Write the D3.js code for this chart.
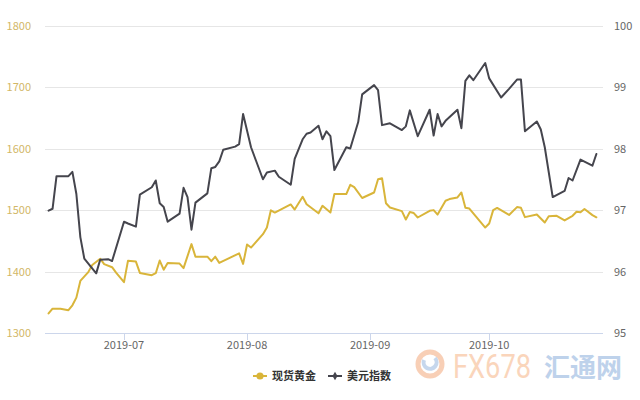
<!DOCTYPE html>
<html>
<head>
<meta charset="utf-8">
<script src="https://cdn.jsdelivr.net/npm/d3@7"></script>
<style>
  html, body { margin: 0; padding: 0; background: #fff; }
  svg { display: block; font-family: "Noto Sans CJK SC", "Noto Sans", sans-serif; }
</style>
</head>
<body>
<svg id="chart" width="640" height="400"></svg>
<script>
// ---- data ----
const goldDates = ["2019-06-12","2019-06-13","2019-06-15","2019-06-17","2019-06-18","2019-06-19","2019-06-20","2019-06-22","2019-06-23","2019-06-25","2019-06-26","2019-06-28","2019-06-29","2019-07-01","2019-07-02","2019-07-04","2019-07-05","2019-07-08","2019-07-09","2019-07-10","2019-07-11","2019-07-12","2019-07-15","2019-07-16","2019-07-18","2019-07-19","2019-07-22","2019-07-23","2019-07-24","2019-07-25","2019-07-30","2019-07-31","2019-08-01","2019-08-02","2019-08-05","2019-08-06","2019-08-07","2019-08-08","2019-08-12","2019-08-13","2019-08-15","2019-08-16","2019-08-19","2019-08-20","2019-08-22","2019-08-23","2019-08-26","2019-08-27","2019-08-28","2019-08-30","2019-09-02","2019-09-03","2019-09-04","2019-09-05","2019-09-06","2019-09-09","2019-09-10","2019-09-11","2019-09-12","2019-09-13","2019-09-16","2019-09-17","2019-09-18","2019-09-20","2019-09-21","2019-09-23","2019-09-24","2019-09-25","2019-09-26","2019-09-30","2019-10-01","2019-10-02","2019-10-03","2019-10-06","2019-10-08","2019-10-09","2019-10-10","2019-10-13","2019-10-15","2019-10-16","2019-10-18","2019-10-20","2019-10-22","2019-10-23","2019-10-24","2019-10-25","2019-10-27","2019-10-28"];
const goldValues = [1331.8,1339.6,1339.6,1337.1,1345.1,1357.5,1384.7,1399.0,1410.7,1420.8,1412.0,1407.0,1398.2,1382.7,1417.3,1416.1,1397.7,1394.0,1397.2,1417.8,1402.9,1413.7,1412.9,1405.5,1444.5,1424.1,1424.1,1416.8,1424.1,1414.0,1429.5,1412.4,1443.8,1438.9,1460.7,1471.5,1499.5,1495.9,1509.0,1500.8,1521.5,1509.3,1494.6,1506.8,1495.9,1525.9,1525.9,1541.0,1537.3,1519.5,1528.5,1550.0,1551.6,1510.9,1504.1,1498.2,1484.5,1496.7,1495.0,1487.8,1498.7,1499.8,1492.5,1515.0,1517.8,1520.4,1528.5,1503.6,1502.3,1471.5,1478.0,1499.8,1503.3,1491.9,1504.7,1503.6,1488.4,1492.7,1479.6,1489.7,1490.6,1483.1,1490.6,1497.1,1496.3,1501.5,1491.7,1488.1];

const usdDates = ["2019-06-12","2019-06-13","2019-06-14","2019-06-17","2019-06-18","2019-06-19","2019-06-20","2019-06-21","2019-06-24","2019-06-25","2019-06-27","2019-06-28","2019-07-01","2019-07-02","2019-07-04","2019-07-05","2019-07-08","2019-07-09","2019-07-10","2019-07-11","2019-07-12","2019-07-15","2019-07-16","2019-07-17","2019-07-18","2019-07-19","2019-07-22","2019-07-23","2019-07-24","2019-07-25","2019-07-26","2019-07-29","2019-07-30","2019-07-31","2019-08-02","2019-08-05","2019-08-06","2019-08-08","2019-08-09","2019-08-12","2019-08-13","2019-08-15","2019-08-16","2019-08-17","2019-08-19","2019-08-20","2019-08-21","2019-08-22","2019-08-23","2019-08-26","2019-08-27","2019-08-29","2019-08-30","2019-09-02","2019-09-03","2019-09-04","2019-09-06","2019-09-09","2019-09-10","2019-09-11","2019-09-13","2019-09-16","2019-09-17","2019-09-18","2019-09-19","2019-09-20","2019-09-23","2019-09-24","2019-09-25","2019-09-26","2019-09-27","2019-09-30","2019-10-01","2019-10-04","2019-10-06","2019-10-08","2019-10-09","2019-10-10","2019-10-13","2019-10-14","2019-10-15","2019-10-17","2019-10-20","2019-10-21","2019-10-22","2019-10-24","2019-10-27","2019-10-28"];
const usdValues = [96.99,97.02,97.55,97.55,97.62,97.26,96.56,96.21,95.97,96.19,96.20,96.17,96.81,96.78,96.73,97.25,97.37,97.48,97.11,97.05,96.81,96.94,97.36,97.21,96.68,97.12,97.27,97.68,97.70,97.79,97.98,98.03,98.07,98.56,98.02,97.50,97.61,97.64,97.54,97.41,97.83,98.15,98.24,98.26,98.37,98.15,98.28,98.20,97.65,98.02,98.00,98.43,98.88,99.03,98.95,98.38,98.41,98.30,98.36,98.62,98.20,98.63,98.21,98.56,98.36,98.45,98.63,98.33,99.10,99.19,99.11,99.39,99.14,98.83,98.97,99.12,99.12,98.28,98.44,98.31,98.02,97.21,97.31,97.52,97.48,97.82,97.72,97.91];

const leftTicks = [1300, 1400, 1500, 1600, 1700, 1800];
const rightTicks = [95, 96, 97, 98, 99, 100];
const monthTicks = ["2019-07-01", "2019-08-01", "2019-09-01", "2019-10-01"];
const seriesNames = ["现货黄金", "美元指数"];

// ---- setup ----
const parse = d3.timeParse("%Y-%m-%d");
const svg = d3.select("#chart");
const plotL = 45, plotR = 603, plotT = 25.5, plotB = 333;

const x = d3.scaleTime()
  .domain([parse("2019-07-01"), parse("2019-10-01")])
  .range([124, 489.2]);
const yL = d3.scaleLinear().domain([1300, 1800]).range([plotB, plotT]);
const yR = d3.scaleLinear().domain([95, 100]).range([plotB, plotT]);

const goldColor = "#d9b53a";
const usdColor = "#45454d";

// watermark (drawn first, faint)
const wm = svg.append("g").attr("opacity", 0.5);
wm.append("circle").attr("cx", 430).attr("cy", 364).attr("r", 12)
  .attr("fill", "none").attr("stroke", "#f2a070").attr("stroke-width", 5);
wm.append("path").attr("d", "M424,360 a6.5,6.5 0 1,0 11,-2")
  .attr("fill", "none").attr("stroke", "#8fb0dc").attr("stroke-width", 4);
wm.append("text").attr("x", 453).attr("y", 378)
  .attr("font-size", 33).attr("font-family", "Roboto, sans-serif")
  .attr("fill", "#f6ad7a")
  .attr("textLength", 78).attr("lengthAdjust", "spacingAndGlyphs")
  .text("FX678");
wm.append("text").attr("x", 544).attr("y", 377)
  .attr("font-size", 26).attr("font-weight", "bold")
  .attr("fill", "#7fa6d8")
  .attr("textLength", 78).attr("lengthAdjust", "spacingAndGlyphs")
  .text("汇通网");

// gridlines
svg.append("g").selectAll("line")
  .data(leftTicks.slice(1))
  .join("line")
  .attr("x1", plotL).attr("x2", plotR)
  .attr("y1", d => Math.round(yL(d)) + 0.5).attr("y2", d => Math.round(yL(d)) + 0.5)
  .attr("stroke", "#e6e6e6").attr("stroke-width", 1);

// x axis line
svg.append("line")
  .attr("x1", plotL).attr("x2", plotR)
  .attr("y1", plotB + 0.5).attr("y2", plotB + 0.5)
  .attr("stroke", "#ccd6eb").attr("stroke-width", 1);

// x ticks & labels
const xt = svg.append("g");
xt.selectAll("line")
  .data(monthTicks.map(parse))
  .join("line")
  .attr("x1", d => Math.round(x(d)) + 0.5).attr("x2", d => Math.round(x(d)) + 0.5)
  .attr("y1", plotB).attr("y2", plotB + 7)
  .attr("stroke", "#ccd6eb");
xt.selectAll("text")
  .data(monthTicks.map(parse))
  .join("text")
  .attr("x", d => x(d)).attr("y", 349)
  .attr("text-anchor", "middle")
  .attr("font-size", 11).attr("fill", "#666")
  .text(d => d3.timeFormat("%Y-%m")(d));

// left axis labels
svg.append("g").selectAll("text")
  .data(leftTicks)
  .join("text")
  .attr("x", 31).attr("y", d => yL(d) + 4)
  .attr("text-anchor", "end")
  .attr("font-size", 11).attr("fill", "#d2b767")
  .text(d => d);

// right axis labels
svg.append("g").selectAll("text")
  .data(rightTicks)
  .join("text")
  .attr("x", 614).attr("y", d => yR(d) + 4)
  .attr("text-anchor", "start")
  .attr("font-size", 11).attr("fill", "#666")
  .text(d => d);

// lines
const goldData = goldDates.map((d, i) => ({ date: parse(d), v: goldValues[i] }));
const usdData = usdDates.map((d, i) => ({ date: parse(d), v: usdValues[i] }));

svg.append("path")
  .datum(goldData)
  .attr("fill", "none").attr("stroke", goldColor).attr("stroke-width", 2)
  .attr("stroke-linejoin", "round").attr("stroke-linecap", "round")
  .attr("d", d3.line().x(d => x(d.date)).y(d => yL(d.v)));

svg.append("path")
  .datum(usdData)
  .attr("fill", "none").attr("stroke", usdColor).attr("stroke-width", 2)
  .attr("stroke-linejoin", "round").attr("stroke-linecap", "round")
  .attr("d", d3.line().x(d => x(d.date)).y(d => yR(d.v)));

// legend
const lg = svg.append("g");
const legendItems = [
  { name: seriesNames[0], color: goldColor, sym: d3.symbolCircle, size: 40, x: 253 },
  { name: seriesNames[1], color: usdColor, sym: d3.symbolDiamond, size: 22, x: 328 }
];
legendItems.forEach(it => {
  lg.append("line").attr("x1", it.x).attr("x2", it.x + 14)
    .attr("y1", 376).attr("y2", 376)
    .attr("stroke", it.color).attr("stroke-width", 2);
  lg.append("path").attr("d", d3.symbol(it.sym, it.size)())
    .attr("transform", `translate(${it.x + 7},376)`)
    .attr("fill", it.color);
  lg.append("text").attr("x", it.x + 19).attr("y", 380)
    .attr("font-size", 11).attr("font-weight", "bold").attr("fill", "#333")
    .text(it.name);
});
</script>
</body>
</html>
